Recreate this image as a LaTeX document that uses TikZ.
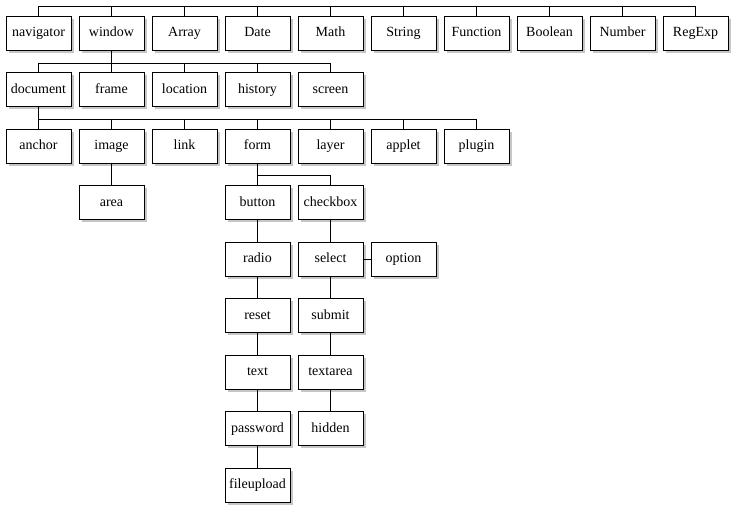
\documentclass[tikz,border=0pt]{standalone}
\usepackage{fontspec}
\setmainfont{Liberation Serif}
\usetikzlibrary{shadows}

\tikzset{
  obj/.style={draw, line width=1pt, fill=white, minimum width=65pt, minimum height=34pt,
    inner sep=0pt, text height=10pt, text depth=3pt, font=\fontsize{14pt}{16pt}\selectfont,
    drop shadow={shadow xshift=2.5pt, shadow yshift=-2.5pt, fill=gray!45, opacity=1}},
  link/.style={line width=1pt}
}

\begin{document}
\begin{tikzpicture}[x=1pt, y=1pt]
    \useasboundingbox (0,0) rectangle (737,-512);
    % row 1
    \node[obj] (navigator) at (38.5,-33) {navigator};
    \node[obj] (window) at (111.5,-33) {window};
    \node[obj] (array) at (184.5,-33) {Array};
    \node[obj] (date) at (257.5,-33) {Date};
    \node[obj] (math) at (330.5,-33) {Math};
    \node[obj] (string) at (403.5,-33) {String};
    \node[obj] (function) at (476.5,-33) {Function};
    \node[obj] (boolean) at (549.5,-33) {Boolean};
    \node[obj] (number) at (622.5,-33) {Number};
    \node[obj] (regexp) at (695.5,-33) {RegExp};
    % row 2
    \node[obj] (document) at (38.5,-89.5) {document};
    \node[obj] (frame) at (111.5,-89.5) {frame};
    \node[obj] (location) at (184.5,-89.5) {location};
    \node[obj] (history) at (257.5,-89.5) {history};
    \node[obj] (screen) at (330.5,-89.5) {screen};
    % row 3
    \node[obj] (anchor) at (38.5,-146) {anchor};
    \node[obj] (image) at (111.5,-146) {image};
    \node[obj] (link) at (184.5,-146) {link};
    \node[obj] (form) at (257.5,-146) {form};
    \node[obj] (layer) at (330.5,-146) {layer};
    \node[obj] (applet) at (403.5,-146) {applet};
    \node[obj] (plugin) at (476.5,-146) {plugin};
    % form elements
    \node[obj] (area) at (111.5,-202.5) {area};
    \node[obj] (button) at (257.5,-202.5) {button};
    \node[obj] (checkbox) at (330.5,-202.5) {checkbox};
    \node[obj] (radio) at (257.5,-259) {radio};
    \node[obj] (select) at (330.5,-259) {select};
    \node[obj] (option) at (403.5,-259) {option};
    \node[obj] (reset) at (257.5,-315.5) {reset};
    \node[obj] (submit) at (330.5,-315.5) {submit};
    \node[obj] (text) at (257.5,-372) {text};
    \node[obj] (textarea) at (330.5,-372) {textarea};
    \node[obj] (password) at (257.5,-428.5) {password};
    \node[obj] (hidden) at (330.5,-428.5) {hidden};
    \node[obj] (fileupload) at (257.5,-485) {fileupload};

    % top bus
    \coordinate (top) at (38.5,-6);
    \foreach \c in {navigator,window,array,date,math,string,function,boolean,number,regexp}
      \draw[link] (top) -| (\c.north);
    \foreach \c in {document,frame,location,history,screen}
      \draw[link] (window.south) -- ++(0,-12.5) -| (\c.north);
    \foreach \c in {anchor,image,link,form,layer,applet,plugin}
      \draw[link] (document.south) -- ++(0,-12.5) -| (\c.north);
    \foreach \c in {button,checkbox}
      \draw[link] (form.south) -- ++(0,-11.5) -| (\c.north);
    \draw[link] (image) to (area);
    \draw[link] (button) to (radio);
    \draw[link] (radio) to (reset);
    \draw[link] (reset) to (text);
    \draw[link] (text) to (password);
    \draw[link] (password) to (fileupload);
    \draw[link] (checkbox) to (select);
    \draw[link] (select) to (submit);
    \draw[link] (submit) to (textarea);
    \draw[link] (textarea) to (hidden);
    \draw[link] (select) to (option);
  \end{tikzpicture}
\end{document}
